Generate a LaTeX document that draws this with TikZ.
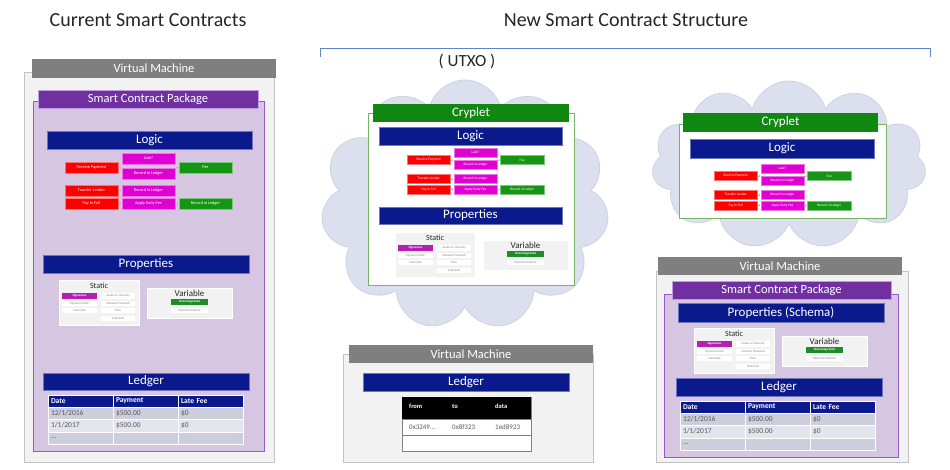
\documentclass[tikz,border=0pt]{standalone}
\usepackage{fontspec}
\setmainfont{Carlito}
\usetikzlibrary{shapes.symbols,arrows.meta}

\definecolor{vmfill}{RGB}{242,242,242}
\definecolor{vmborder}{RGB}{195,195,195}
\definecolor{vmheadc}{RGB}{127,127,127}
\definecolor{pkgfill}{RGB}{214,198,226}
\definecolor{pkgborder}{RGB}{150,90,200}
\definecolor{pkgheadc}{RGB}{112,48,160}
\definecolor{navy}{RGB}{10,26,140}
\definecolor{itred}{RGB}{255,0,0}
\definecolor{itmag}{RGB}{224,0,210}
\definecolor{itgreen}{RGB}{20,150,20}
\definecolor{crygreen}{RGB}{16,135,16}
\definecolor{cryborder}{RGB}{120,180,100}
\definecolor{cloudfill}{RGB}{219,223,238}
\definecolor{cloudborder}{RGB}{205,210,228}
\definecolor{rowa}{RGB}{205,206,220}
\definecolor{rowb}{RGB}{228,228,237}
\definecolor{sigmag}{RGB}{180,30,180}
\definecolor{pctgreen}{RGB}{30,140,40}
\definecolor{bracketc}{RGB}{100,130,200}
\definecolor{titlec}{RGB}{38,38,38}
\definecolor{rowtext}{RGB}{89,89,89}
\definecolor{paneltext}{RGB}{40,40,40}

\tikzset{
  box/.style={anchor=north west, inner sep=0pt, outer sep=0pt},
  title/.style={font=\fontsize{20}{24}\selectfont, text=titlec},
  vmbox/.style={fill=vmfill, draw=vmborder, line width=0.8pt},
  vmhead/.style={fill=vmheadc, text=white, font=\fontsize{12.5}{14}\selectfont},
  pkgbox/.style={fill=pkgfill, draw=pkgborder, line width=0.9pt},
  pkghead/.style={fill=pkgheadc, draw=pkgborder!60!white, line width=0.4pt, text=white, font=\fontsize{12.5}{14}\selectfont},
  navybar/.style={fill=navy, draw=navy!60!white, line width=0.4pt, text=white, font=\fontsize{13}{15}\selectfont},
  crybox/.style={fill=white, draw=cryborder, line width=1pt},
  cryhead/.style={fill=crygreen, text=white, font=\fontsize{13}{15}\selectfont},
  item/.style={text=white, line width=0.3pt, font=\fontsize{4.3}{5}\selectfont},
  itemred/.style={item, fill=itred, draw=itred!55!white},
  itemmag/.style={item, fill=itmag, draw=itmag!55!white},
  itemgreen/.style={item, fill=itgreen, draw=itgreen!55!white},
  chev/.style={-{Straight Barb[length=1.1pt,width=2.4pt]}, draw=gray!55, line width=0.35pt, shorten <=0.6pt, shorten >=0.6pt},
  panel/.style={fill=vmfill, draw=white, line width=0.5pt},
  paneltitle/.style={inner sep=0pt, text=paneltext},
  wbox/.style={fill=white, text=gray, font=\fontsize{3.2}{4}\selectfont},
  sigbox/.style={fill=sigmag, text=white, font=\bfseries\fontsize{3.2}{4}\selectfont},
  prbox/.style={fill=pctgreen, text=white, font=\bfseries\fontsize{3.2}{4}\selectfont},
  cell/.style={box, text width=59pt, inner xsep=3pt, align=left, draw=white, line width=0.7pt},
  thead/.style={cell, fill=navy, text=white, font=\bfseries\fontsize{7.5}{9}\selectfont},
  trowa/.style={cell, fill=rowa, text=rowtext, font=\fontsize{7.5}{9}\selectfont},
  trowb/.style={cell, fill=rowb, text=rowtext, font=\fontsize{7.5}{9}\selectfont},
  cloudshape/.style={cloud, cloud puffs=11, cloud ignores aspect, fill=cloudfill, draw=cloudborder, line width=0.8pt, inner sep=0pt},
}

\newcommand\rbox[7]{\node[box,#2,minimum width={#5pt-#3pt},minimum height={#6pt-#4pt}] (#1) at (#3,#4) {#7};}
\newcommand\tcell[7]{\node[#2,minimum height={#6pt-#4pt}] (#1) at (#3,#4) {#7};}

\newcommand\logicblock[4]{%
\begin{scope}[shift={(#2,#3)},scale=#4,transform shape]
\rbox{#1rp}{itemred}{0}{9}{53}{20}{Receive Payment}
\rbox{#1late}{itemmag}{57}{0}{110}{11}{Late?}
\rbox{#1rla}{itemmag}{57}{15}{110}{26}{Record in Ledger}
\rbox{#1fee}{itemgreen}{114}{9}{167}{20}{Fee}
\rbox{#1tl}{itemred}{0}{32}{53}{43}{Transfer Lender}
\rbox{#1rlb}{itemmag}{57}{32}{110}{43}{Record in Ledger}
\rbox{#1pif}{itemred}{0}{45}{53}{56}{Pay In Full}
\rbox{#1aef}{itemmag}{57}{45}{110}{56}{Apply Early Fee}
\rbox{#1rlc}{itemgreen}{114}{45}{167}{56}{Record in Ledger}
\draw[chev] (#1rp.east) -- (#1rp.east -| #1rla.west);
\draw[chev] (#1fee.west -| #1rla.east) -- (#1fee.west);
\draw[chev] (#1tl.east) -- (#1rlb.west);
\draw[chev] (#1pif.east) -- (#1aef.west);
\draw[chev] (#1aef.east) -- (#1rlc.west);
\end{scope}}

\newcommand\propblock[3]{%
\begin{scope}[shift={(#2,#3)}]
\rbox{#1st}{panel}{0}{0}{80}{45}{}
\node[paneltitle,font=\fontsize{8}{9}\selectfont] (#1stt) at (40,5.5) {Static};
\rbox{#1sig}{sigbox}{3}{13}{38}{19}{Signatures}
\rbox{#1pd}{wbox}{3}{21}{38}{26}{Payment Date}
\rbox{#1ld}{wbox}{3}{28}{38}{33}{Late Date}
\rbox{#1as}{wbox}{42}{13}{76}{19}{Assets or Security}
\rbox{#1af}{wbox}{42}{21}{76}{26}{Amount Financed}
\rbox{#1tm}{wbox}{42}{28}{76}{33}{Term}
\rbox{#1ts}{wbox}{42}{36}{76}{41}{Total Sale}
\rbox{#1va}{panel}{88}{8}{173}{38}{}
\node[paneltitle,font=\fontsize{9}{10}\selectfont] (#1vat) at (130.5,13.5) {Variable};
\rbox{#1pr}{prbox}{112}{19}{149}{25}{Percentage Rate}
\rbox{#1pa}{wbox}{112}{28}{149}{33}{Payment Amount}
\end{scope}}

\newcommand\ledgertable[3]{%
\begin{scope}[shift={(#2,#3)}]
\tcell{#1ha}{thead}{0}{0}{65}{12}{Date}
\tcell{#1hb}{thead}{65}{0}{130}{12}{Payment}
\tcell{#1hc}{thead}{130}{0}{195}{12}{Late Fee}
\tcell{#1aa}{trowa}{0}{12}{65}{24}{12/1/2016}
\tcell{#1ab}{trowa}{65}{12}{130}{24}{\$500.00}
\tcell{#1ac}{trowa}{130}{12}{195}{24}{\$0}
\tcell{#1ba}{trowb}{0}{24}{65}{37}{1/1/2017}
\tcell{#1bb}{trowb}{65}{24}{130}{37}{\$500.00}
\tcell{#1bc}{trowb}{130}{24}{195}{37}{\$0}
\tcell{#1ca}{trowa}{0}{37}{65}{49}{...}
\tcell{#1cb}{trowa}{65}{37}{130}{49}{}
\tcell{#1cc}{trowa}{130}{37}{195}{49}{}
\end{scope}}

\begin{document}
\begin{tikzpicture}[x=1pt,y=-1pt]
\useasboundingbox[fill=white] (0,0) rectangle (950,469);

% titles
\node[title] (t1) at (148,20) {Current Smart Contracts};
\node[title] (t2) at (626,20) {New Smart Contract Structure};
\coordinate (bl) at (320,57);
\coordinate (br) at (930,57);
\draw[bracketc, line width=0.9pt] (bl) -- ++(0,-9) -| (br);
\node[font=\fontsize{17}{20}\selectfont, text=titlec] (utxo) at (467,61) {( UTXO )};

% ===== left: current smart contracts =====
\rbox{vmL}{vmbox}{24}{72}{274}{462}{}
\rbox{vmLh}{vmhead}{32}{59}{276}{78}{Virtual Machine}
\rbox{pkgL}{pkgbox}{33}{101}{264}{451}{}
\rbox{pkgLh}{pkghead}{38}{90}{258}{108}{Smart Contract Package}
\rbox{logL}{navybar}{47}{131}{252}{149}{Logic}
\logicblock{L}{65}{153}{1}
\rbox{propL}{navybar}{43}{255}{249}{273}{Properties}
\propblock{L}{59}{280}
\rbox{ledL}{navybar}{43}{373}{249}{390}{Ledger}
\ledgertable{L}{48}{395}

% ===== middle: cryplet in cloud =====
\node[cloudshape, minimum width=288pt, minimum height=250pt] (cloudM) at (465,205) {};
\rbox{cryM}{crybox}{368}{113}{574}{285}{}
\rbox{cryMh}{cryhead}{373}{104}{569}{122}{Cryplet}
\rbox{logM}{navybar}{379}{127}{562}{145}{Logic}
\logicblock{M}{407}{148}{0.82}
\rbox{propM}{navybar}{379}{207}{562}{224}{Properties}
\propblock{M}{395}{232}

% ===== middle: virtual machine ledger =====
\rbox{vmM}{vmbox}{343}{354}{593}{462}{}
\rbox{vmMh}{vmhead}{349}{345}{593}{363}{Virtual Machine}
\rbox{ledM}{navybar}{363}{373}{569}{391}{Ledger}
\rbox{tblM}{draw=gray, line width=0.8pt, fill=white}{402}{397}{531}{451}{}
\rbox{tblMh}{fill=black}{402}{397}{531}{419}{}
\rbox{tblMr}{draw=gray, line width=0.8pt}{402}{419}{531}{435}{}
\begin{scope}[every node/.style={anchor=west, inner sep=0pt}]
\node[text=white, font=\bfseries\fontsize{6.5}{8}\selectfont] (hfrom) at (409,406) {from};
\node[text=white, font=\bfseries\fontsize{6.5}{8}\selectfont] (hto) at (452,406) {to};
\node[text=white, font=\bfseries\fontsize{6.5}{8}\selectfont] (hdata) at (495,406) {data};
\node[text=rowtext, font=\fontsize{7}{8}\selectfont] (vfrom) at (409,427) {0x3249...};
\node[text=rowtext, font=\fontsize{7}{8}\selectfont] (vto) at (452,427) {0x8f323};
\node[text=rowtext, font=\fontsize{7}{8}\selectfont] (vdata) at (495,427) {1ed8923};
\end{scope}

% ===== right: cryplet in cloud =====
\node[cloudshape, minimum width=274pt, minimum height=168pt] (cloudR) at (789,165) {};
\rbox{cryR}{crybox}{679}{124}{886}{218}{}
\rbox{cryRh}{cryhead}{683}{113}{878}{132}{Cryplet}
\rbox{logR}{navybar}{690}{139}{874}{158}{Logic}
\logicblock{R}{714}{164}{0.82}

% ===== right: virtual machine with package =====
\rbox{vmR}{vmbox}{656}{271}{908}{462}{}
\rbox{vmRh}{vmhead}{658}{257}{902}{275}{Virtual Machine}
\rbox{pkgR}{pkgbox}{664}{294}{898}{457}{}
\rbox{pkgRh}{pkghead}{672}{281}{891}{299}{Smart Contract Package}
\rbox{propR}{navybar}{678}{303}{884}{322}{Properties (Schema)}
\propblock{R}{694}{328}
\rbox{ledR}{navybar}{676}{378}{882}{396}{Ledger}
\ledgertable{R}{680}{401}
\end{tikzpicture}
\end{document}
